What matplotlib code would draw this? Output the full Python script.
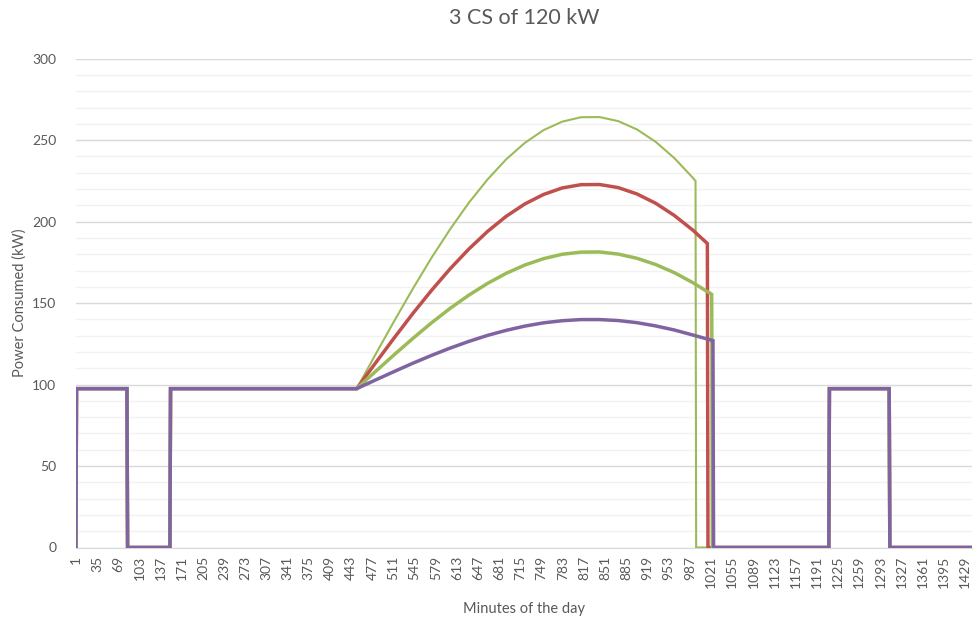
import matplotlib.pyplot as plt
import numpy as np

plt.rcParams['font.family'] = ['Lato', 'DejaVu Sans']

# minutes of the day shown on the category axis
tick_minutes = list(range(1, 1441, 34))

# square part common to every series (minute, kW)
base_level = 97.5
morning_x = [1, 2, 83, 84, 152, 153, 452]
morning_y = [0, base_level, base_level, 0, 0, base_level, base_level]
evening_x = [1210, 1211, 1307, 1308, 1440]
evening_y = [0, base_level, base_level, 0, 0]

# daytime curves
curve_min = [452, 482, 512, 542, 572, 602, 632, 662, 692, 722,
             752, 782, 812, 842, 872, 902, 932, 962, 992]

green_thin = [97.5, 118.4, 138.9, 158.8, 177.8, 195.4, 211.6, 225.9, 238.3, 248.4,
              256.2, 261.4, 264.1, 264.2, 261.7, 256.6, 249, 239, 226.8]
green_thin_end = (996, 225)

red = [97.5, 113.2, 128.6, 143.6, 157.8, 171.1, 183.2, 194, 203.3, 210.9,
       216.7, 220.7, 222.7, 222.8, 220.9, 217, 211.3, 203.8, 194.7]
red_end = (1015, 186.6)

green_thick = [97.5, 108, 118.3, 128.3, 137.9, 146.8, 154.9, 162.1, 168.3, 173.4,
               177.3, 180, 181.3, 181.4, 180.1, 177.5, 173.7, 168.7, 162.5]
green_thick_end = (1022, 155.4)

purple = [97.5, 102.8, 108, 113.1, 117.9, 122.4, 126.5, 130.2, 133.3, 135.9,
          137.9, 139.2, 139.9, 139.9, 139.3, 138, 136, 133.5, 130.4]
purple_end = (1024, 127)


def build(curve, end):
    x = morning_x + curve_min[1:] + [end[0], end[0] + 1] + evening_x
    y = morning_y + curve[1:] + [end[1], 0] + evening_y
    return x, y


fig = plt.figure(figsize=(9.73, 6.25), dpi=100)
ax = fig.add_axes([0.078, 0.124, 0.921, 0.782])

series = [
    (green_thin, green_thin_end, '#9BBB59', 1.5),
    (red, red_end, '#C0504D', 2.5),
    (green_thick, green_thick_end, '#9BBB59', 2.5),
    (purple, purple_end, '#8064A2', 2.5),
]
for vals, end, col, lw in series:
    x, y = build(vals, end)
    ax.plot(x, y, color=col, lw=lw, solid_joinstyle='miter', zorder=3)

ax.set_xlim(1, 1440)
ax.set_ylim(0, 300)
ax.set_yticks(range(0, 301, 50))
ax.set_yticks(range(0, 301, 10), minor=True)
ax.grid(axis='y', which='major', color='#D9D9D9', lw=1)
ax.grid(axis='y', which='minor', color='#F2F2F2', lw=1)
ax.set_axisbelow(True)

ax.set_xticks(tick_minutes)
ax.set_xticklabels([str(t) for t in tick_minutes], rotation=90)
ax.tick_params(axis='both', which='both', length=0, labelsize=10, colors='#595959')
ax.tick_params(axis='x', pad=6)
ax.tick_params(axis='y', pad=14)

for s in ['top', 'right', 'left']:
    ax.spines[s].set_visible(False)
ax.spines['bottom'].set_color('#D9D9D9')

ax.set_title('3 CS of 120 kW', fontsize=15.5, color='#595959', pad=25)
ax.set_xlabel('Minutes of the day', fontsize=10.5, color='#595959', labelpad=10)
ax.set_ylabel('Power Consumed (kW)', fontsize=10.5, color='#595959', labelpad=4)

fig.savefig('out.png', dpi=100)
